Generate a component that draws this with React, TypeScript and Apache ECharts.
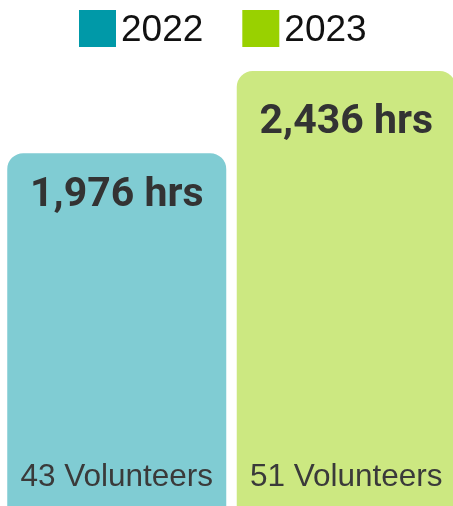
import React, { useEffect, useRef } from "react";
import * as echarts from "echarts";

const categories = ["2022", "2023"];
const hours = [1976, 2436];
const volunteers = [43, 51];
const legendColors = ["#0099A8", "#99D100"];
const barColors = ["#80CCD3", "#CCE881"];

export default function App() {
  const ref = useRef<HTMLDivElement>(null);
  useEffect(() => {
    if (!ref.current) return;
    const chart = echarts.init(ref.current, null, { renderer: "svg" });
    const hourSeries = categories.map((name, i) => ({
      name,
      type: "bar",
      barWidth: 219,
      barGap: "-100%",
      data: hours.map((v, j) => (j === i ? v : null)),
      itemStyle: { color: barColors[i], borderRadius: [16, 16, 0, 0] },
      label: {
        show: true,
        position: "insideTop",
        distance: i === 0 ? 18 : 27,
        formatter: (p: any) => `${Number(p.value).toLocaleString("en-US")} hrs`,
        fontFamily: "Roboto, 'Liberation Sans', Arial, sans-serif",
        fontWeight: "bold",
        fontSize: 41,
        color: "#333333",
      },
    }));
    const volSeries = categories.map((name, i) => ({
      name: `vol-${name}`,
      type: "bar",
      barWidth: 219,
      barGap: "-100%",
      silent: true,
      data: hours.map((v, j) => (j === i ? v : null)),
      itemStyle: { color: "rgba(0,0,0,0)" },
      label: {
        show: true,
        position: "insideBottom",
        distance: 15,
        formatter: () => `${volunteers[i]} Volunteers`,
        fontFamily: "'Liberation Sans', Arial, sans-serif",
        fontSize: 31.5,
        color: "#3a3a3a",
      },
    }));
    chart.setOption({
      animation: false,
      legend: {
        top: 5,
        left: 74,
        itemWidth: 37,
        itemHeight: 37,
        itemGap: 39,
        icon: "rect",
        textStyle: { fontSize: 37, color: "#111111", fontFamily: "'Liberation Sans', Arial, sans-serif" },
        data: categories.map((c, i) => ({ name: c, itemStyle: { color: legendColors[i], opacity: 1 } })),
      },
      grid: { left: 2, right: 0, top: 71, bottom: 0 },
      xAxis: { type: "category", data: categories, show: false },
      yAxis: { type: "value", min: 0, max: "dataMax", show: false },
      series: [...hourSeries, ...volSeries],
    });
    return () => chart.dispose();
  }, []);
  return <div ref={ref} style={{ position: "fixed", left: 0, top: 0, width: 461, height: 506 }} />;
}
